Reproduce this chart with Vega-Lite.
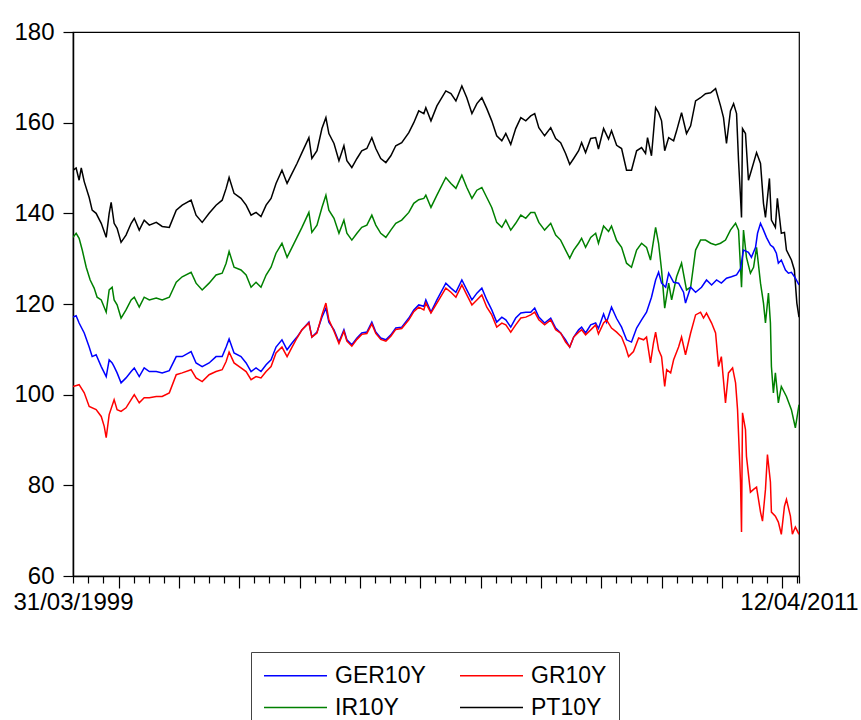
{
"$schema": "https://vega.github.io/schema/vega-lite/v6.json",
"autosize": {"type": "none"},
"padding": {"left": 73, "top": 32, "right": 62, "bottom": 144},
"width": 726,
"height": 544,
"background": "white",
"config": {"view": {"stroke": "black", "strokeWidth": 1.2}, "font": "Liberation Sans"},
"data": {"values": [
{"date":"1999-03-31","series":"PT10Y","value":149.5},
{"date":"1999-04-19","series":"PT10Y","value":150},
{"date":"1999-05-07","series":"PT10Y","value":147.3},
{"date":"1999-05-20","series":"PT10Y","value":150},
{"date":"1999-06-07","series":"PT10Y","value":147},
{"date":"1999-07-07","series":"PT10Y","value":143.5},
{"date":"1999-07-25","series":"PT10Y","value":140.7},
{"date":"1999-08-18","series":"PT10Y","value":140},
{"date":"1999-09-18","series":"PT10Y","value":137.8},
{"date":"1999-10-18","series":"PT10Y","value":134.7},
{"date":"1999-11-05","series":"PT10Y","value":140},
{"date":"1999-11-17","series":"PT10Y","value":142.4},
{"date":"1999-12-05","series":"PT10Y","value":137.8},
{"date":"1999-12-23","series":"PT10Y","value":136.7},
{"date":"2000-01-16","series":"PT10Y","value":133.6},
{"date":"2000-02-15","series":"PT10Y","value":135.2},
{"date":"2000-03-17","series":"PT10Y","value":137.8},
{"date":"2000-04-05","series":"PT10Y","value":138.9},
{"date":"2000-05-05","series":"PT10Y","value":136.3},
{"date":"2000-06-04","series":"PT10Y","value":138.5},
{"date":"2000-07-05","series":"PT10Y","value":137.4},
{"date":"2000-08-16","series":"PT10Y","value":138},
{"date":"2000-09-21","series":"PT10Y","value":137.1},
{"date":"2000-11-03","series":"PT10Y","value":136.9},
{"date":"2000-12-15","series":"PT10Y","value":140.7},
{"date":"2001-01-20","series":"PT10Y","value":141.8},
{"date":"2001-03-15","series":"PT10Y","value":142.9},
{"date":"2001-04-14","series":"PT10Y","value":139.6},
{"date":"2001-05-21","series":"PT10Y","value":138},
{"date":"2001-07-02","series":"PT10Y","value":140},
{"date":"2001-08-13","series":"PT10Y","value":141.8},
{"date":"2001-09-19","series":"PT10Y","value":142.9},
{"date":"2001-10-13","series":"PT10Y","value":145.5},
{"date":"2001-10-31","series":"PT10Y","value":147.9},
{"date":"2001-11-30","series":"PT10Y","value":144.4},
{"date":"2002-01-11","series":"PT10Y","value":143.3},
{"date":"2002-02-11","series":"PT10Y","value":141.8},
{"date":"2002-03-13","series":"PT10Y","value":139.6},
{"date":"2002-04-12","series":"PT10Y","value":140.2},
{"date":"2002-05-12","series":"PT10Y","value":139.3},
{"date":"2002-06-12","series":"PT10Y","value":141.8},
{"date":"2002-07-12","series":"PT10Y","value":143.3},
{"date":"2002-08-11","series":"PT10Y","value":146.6},
{"date":"2002-09-16","series":"PT10Y","value":149.5},
{"date":"2002-10-17","series":"PT10Y","value":146.6},
{"date":"2002-11-16","series":"PT10Y","value":148.8},
{"date":"2002-12-16","series":"PT10Y","value":151},
{"date":"2003-01-15","series":"PT10Y","value":153.4},
{"date":"2003-02-26","series":"PT10Y","value":156.7},
{"date":"2003-03-16","series":"PT10Y","value":152.1},
{"date":"2003-04-16","series":"PT10Y","value":153.8},
{"date":"2003-05-16","series":"PT10Y","value":158.7},
{"date":"2003-06-09","series":"PT10Y","value":161.1},
{"date":"2003-06-27","series":"PT10Y","value":157.6},
{"date":"2003-07-28","series":"PT10Y","value":155.4},
{"date":"2003-08-27","series":"PT10Y","value":151.6},
{"date":"2003-09-26","series":"PT10Y","value":154.9},
{"date":"2003-10-14","series":"PT10Y","value":151.6},
{"date":"2003-11-13","series":"PT10Y","value":150.1},
{"date":"2003-12-14","series":"PT10Y","value":152.1},
{"date":"2004-01-12","series":"PT10Y","value":153.8},
{"date":"2004-02-12","series":"PT10Y","value":154.3},
{"date":"2004-03-13","series":"PT10Y","value":156.7},
{"date":"2004-04-06","series":"PT10Y","value":154.3},
{"date":"2004-05-06","series":"PT10Y","value":152.1},
{"date":"2004-06-06","series":"PT10Y","value":151.2},
{"date":"2004-07-06","series":"PT10Y","value":152.7},
{"date":"2004-08-05","series":"PT10Y","value":154.9},
{"date":"2004-09-10","series":"PT10Y","value":155.6},
{"date":"2004-10-23","series":"PT10Y","value":157.8},
{"date":"2004-11-22","series":"PT10Y","value":160},
{"date":"2004-12-22","series":"PT10Y","value":162.6},
{"date":"2005-01-22","series":"PT10Y","value":162},
{"date":"2005-02-03","series":"PT10Y","value":163.3},
{"date":"2005-03-06","series":"PT10Y","value":160.4},
{"date":"2005-04-11","series":"PT10Y","value":163.7},
{"date":"2005-06-04","series":"PT10Y","value":167},
{"date":"2005-07-05","series":"PT10Y","value":166.4},
{"date":"2005-08-04","series":"PT10Y","value":164.8},
{"date":"2005-09-09","series":"PT10Y","value":168.1},
{"date":"2005-10-09","series":"PT10Y","value":165.5},
{"date":"2005-11-09","series":"PT10Y","value":162},
{"date":"2005-12-09","series":"PT10Y","value":164.2},
{"date":"2006-01-08","series":"PT10Y","value":165.5},
{"date":"2006-02-07","series":"PT10Y","value":163.1},
{"date":"2006-03-09","series":"PT10Y","value":160.4},
{"date":"2006-04-08","series":"PT10Y","value":157.1},
{"date":"2006-05-09","series":"PT10Y","value":156},
{"date":"2006-06-02","series":"PT10Y","value":157.6},
{"date":"2006-07-02","series":"PT10Y","value":155.2},
{"date":"2006-08-01","series":"PT10Y","value":158.7},
{"date":"2006-09-01","series":"PT10Y","value":161.1},
{"date":"2006-10-01","series":"PT10Y","value":160.4},
{"date":"2006-10-31","series":"PT10Y","value":161.5},
{"date":"2006-11-24","series":"PT10Y","value":162},
{"date":"2006-12-19","series":"PT10Y","value":158.9},
{"date":"2007-01-23","series":"PT10Y","value":157.1},
{"date":"2007-03-01","series":"PT10Y","value":158.9},
{"date":"2007-03-31","series":"PT10Y","value":156.5},
{"date":"2007-04-30","series":"PT10Y","value":155.6},
{"date":"2007-05-30","series":"PT10Y","value":153.2},
{"date":"2007-06-24","series":"PT10Y","value":150.8},
{"date":"2007-07-18","series":"PT10Y","value":152.1},
{"date":"2007-08-17","series":"PT10Y","value":153.8},
{"date":"2007-09-04","series":"PT10Y","value":155.6},
{"date":"2007-09-28","series":"PT10Y","value":153.4},
{"date":"2007-10-29","series":"PT10Y","value":156.5},
{"date":"2007-11-28","series":"PT10Y","value":156.7},
{"date":"2007-12-15","series":"PT10Y","value":154.2},
{"date":"2008-01-15","series":"PT10Y","value":158.7},
{"date":"2008-02-14","series":"PT10Y","value":156.4},
{"date":"2008-03-03","series":"PT10Y","value":158.2},
{"date":"2008-04-03","series":"PT10Y","value":155},
{"date":"2008-05-03","series":"PT10Y","value":154.3},
{"date":"2008-06-02","series":"PT10Y","value":149.5},
{"date":"2008-07-02","series":"PT10Y","value":149.5},
{"date":"2008-08-02","series":"PT10Y","value":153.8},
{"date":"2008-09-01","series":"PT10Y","value":154.5},
{"date":"2008-09-25","series":"PT10Y","value":153.2},
{"date":"2008-10-07","series":"PT10Y","value":156.7},
{"date":"2008-10-31","series":"PT10Y","value":152.7},
{"date":"2008-11-25","series":"PT10Y","value":163.3},
{"date":"2008-12-13","series":"PT10Y","value":162.2},
{"date":"2008-12-31","series":"PT10Y","value":160.4},
{"date":"2009-01-19","series":"PT10Y","value":153.8},
{"date":"2009-02-12","series":"PT10Y","value":156.7},
{"date":"2009-03-14","series":"PT10Y","value":156},
{"date":"2009-04-01","series":"PT10Y","value":158.2},
{"date":"2009-05-01","series":"PT10Y","value":162.2},
{"date":"2009-05-31","series":"PT10Y","value":157.6},
{"date":"2009-06-25","series":"PT10Y","value":159.3},
{"date":"2009-07-25","series":"PT10Y","value":164.8},
{"date":"2009-08-24","series":"PT10Y","value":165.5},
{"date":"2009-09-23","series":"PT10Y","value":166.4},
{"date":"2009-10-24","series":"PT10Y","value":166.6},
{"date":"2009-11-23","series":"PT10Y","value":167.5},
{"date":"2009-12-23","series":"PT10Y","value":163.7},
{"date":"2010-01-10","series":"PT10Y","value":161.1},
{"date":"2010-01-28","series":"PT10Y","value":155.4},
{"date":"2010-02-21","series":"PT10Y","value":162.6},
{"date":"2010-03-12","series":"PT10Y","value":164.2},
{"date":"2010-03-30","series":"PT10Y","value":162},
{"date":"2010-04-11","series":"PT10Y","value":151.6},
{"date":"2010-04-23","series":"PT10Y","value":143.5},
{"date":"2010-04-29","series":"PT10Y","value":139.1},
{"date":"2010-05-05","series":"PT10Y","value":158.7},
{"date":"2010-05-23","series":"PT10Y","value":157.6},
{"date":"2010-06-10","series":"PT10Y","value":147.3},
{"date":"2010-06-28","series":"PT10Y","value":149.5},
{"date":"2010-07-29","series":"PT10Y","value":153.4},
{"date":"2010-08-22","series":"PT10Y","value":151},
{"date":"2010-09-09","series":"PT10Y","value":142.2},
{"date":"2010-09-21","series":"PT10Y","value":139.1},
{"date":"2010-10-15","series":"PT10Y","value":147.7},
{"date":"2010-10-27","series":"PT10Y","value":138.5},
{"date":"2010-11-20","series":"PT10Y","value":136.9},
{"date":"2010-12-02","series":"PT10Y","value":143.3},
{"date":"2010-12-26","series":"PT10Y","value":135.6},
{"date":"2011-01-14","series":"PT10Y","value":135.8},
{"date":"2011-01-26","series":"PT10Y","value":131.9},
{"date":"2011-02-25","series":"PT10Y","value":129.7},
{"date":"2011-03-15","series":"PT10Y","value":127.5},
{"date":"2011-03-30","series":"PT10Y","value":120.2},
{"date":"2011-04-12","series":"PT10Y","value":117.1},
{"date":"1999-03-31","series":"IR10Y","value":134.7},
{"date":"1999-04-19","series":"IR10Y","value":135.6},
{"date":"1999-05-07","series":"IR10Y","value":134.5},
{"date":"1999-05-26","series":"IR10Y","value":131.9},
{"date":"1999-06-19","series":"IR10Y","value":128.1},
{"date":"1999-07-13","series":"IR10Y","value":125.3},
{"date":"1999-08-06","series":"IR10Y","value":123.5},
{"date":"1999-08-24","series":"IR10Y","value":121.5},
{"date":"1999-09-18","series":"IR10Y","value":120.9},
{"date":"1999-10-18","series":"IR10Y","value":118.2},
{"date":"1999-11-05","series":"IR10Y","value":123.1},
{"date":"1999-11-23","series":"IR10Y","value":123.7},
{"date":"1999-12-05","series":"IR10Y","value":120.9},
{"date":"1999-12-23","series":"IR10Y","value":119.8},
{"date":"2000-01-16","series":"IR10Y","value":116.9},
{"date":"2000-02-15","series":"IR10Y","value":118.7},
{"date":"2000-03-17","series":"IR10Y","value":120.9},
{"date":"2000-04-05","series":"IR10Y","value":121.5},
{"date":"2000-05-05","series":"IR10Y","value":119.3},
{"date":"2000-06-04","series":"IR10Y","value":121.5},
{"date":"2000-07-05","series":"IR10Y","value":120.9},
{"date":"2000-08-16","series":"IR10Y","value":121.3},
{"date":"2000-09-21","series":"IR10Y","value":120.9},
{"date":"2000-11-03","series":"IR10Y","value":121.5},
{"date":"2000-12-15","series":"IR10Y","value":124.8},
{"date":"2001-01-20","series":"IR10Y","value":126},
{"date":"2001-03-15","series":"IR10Y","value":127},
{"date":"2001-04-14","series":"IR10Y","value":124.6},
{"date":"2001-05-21","series":"IR10Y","value":123.1},
{"date":"2001-07-02","series":"IR10Y","value":124.6},
{"date":"2001-08-13","series":"IR10Y","value":126.4},
{"date":"2001-09-19","series":"IR10Y","value":126.8},
{"date":"2001-10-13","series":"IR10Y","value":129},
{"date":"2001-10-31","series":"IR10Y","value":131.6},
{"date":"2001-11-30","series":"IR10Y","value":128.1},
{"date":"2002-01-11","series":"IR10Y","value":127.5},
{"date":"2002-02-11","series":"IR10Y","value":126.4},
{"date":"2002-03-13","series":"IR10Y","value":123.7},
{"date":"2002-04-12","series":"IR10Y","value":124.8},
{"date":"2002-05-12","series":"IR10Y","value":123.7},
{"date":"2002-06-12","series":"IR10Y","value":126.4},
{"date":"2002-07-12","series":"IR10Y","value":128.1},
{"date":"2002-08-11","series":"IR10Y","value":131.2},
{"date":"2002-09-16","series":"IR10Y","value":133.4},
{"date":"2002-10-17","series":"IR10Y","value":130.3},
{"date":"2002-11-16","series":"IR10Y","value":132.5},
{"date":"2002-12-16","series":"IR10Y","value":134.7},
{"date":"2003-01-15","series":"IR10Y","value":136.9},
{"date":"2003-02-26","series":"IR10Y","value":140.2},
{"date":"2003-03-16","series":"IR10Y","value":135.8},
{"date":"2003-04-16","series":"IR10Y","value":137.4},
{"date":"2003-05-16","series":"IR10Y","value":141.3},
{"date":"2003-06-09","series":"IR10Y","value":144},
{"date":"2003-06-27","series":"IR10Y","value":140.7},
{"date":"2003-07-28","series":"IR10Y","value":138.9},
{"date":"2003-08-27","series":"IR10Y","value":135.6},
{"date":"2003-09-26","series":"IR10Y","value":138.5},
{"date":"2003-10-14","series":"IR10Y","value":135.6},
{"date":"2003-11-13","series":"IR10Y","value":134.1},
{"date":"2003-12-14","series":"IR10Y","value":135.6},
{"date":"2004-01-12","series":"IR10Y","value":136.9},
{"date":"2004-02-12","series":"IR10Y","value":137.4},
{"date":"2004-03-13","series":"IR10Y","value":139.6},
{"date":"2004-04-06","series":"IR10Y","value":137.4},
{"date":"2004-05-06","series":"IR10Y","value":135.6},
{"date":"2004-06-06","series":"IR10Y","value":134.7},
{"date":"2004-07-06","series":"IR10Y","value":136.3},
{"date":"2004-08-05","series":"IR10Y","value":137.8},
{"date":"2004-09-10","series":"IR10Y","value":138.5},
{"date":"2004-10-23","series":"IR10Y","value":140.2},
{"date":"2004-11-22","series":"IR10Y","value":142.2},
{"date":"2004-12-22","series":"IR10Y","value":143},
{"date":"2005-01-22","series":"IR10Y","value":143.3},
{"date":"2005-02-03","series":"IR10Y","value":144},
{"date":"2005-03-06","series":"IR10Y","value":141.3},
{"date":"2005-04-11","series":"IR10Y","value":144},
{"date":"2005-06-04","series":"IR10Y","value":147.9},
{"date":"2005-07-05","series":"IR10Y","value":146.6},
{"date":"2005-08-04","series":"IR10Y","value":145.5},
{"date":"2005-09-09","series":"IR10Y","value":148.4},
{"date":"2005-10-09","series":"IR10Y","value":145.7},
{"date":"2005-11-09","series":"IR10Y","value":143.3},
{"date":"2005-12-09","series":"IR10Y","value":145.1},
{"date":"2006-01-08","series":"IR10Y","value":145.7},
{"date":"2006-02-07","series":"IR10Y","value":143.5},
{"date":"2006-03-09","series":"IR10Y","value":141.3},
{"date":"2006-04-08","series":"IR10Y","value":138},
{"date":"2006-05-09","series":"IR10Y","value":136.9},
{"date":"2006-06-02","series":"IR10Y","value":138.5},
{"date":"2006-07-02","series":"IR10Y","value":136.3},
{"date":"2006-08-01","series":"IR10Y","value":137.8},
{"date":"2006-09-01","series":"IR10Y","value":139.6},
{"date":"2006-10-01","series":"IR10Y","value":138.9},
{"date":"2006-10-31","series":"IR10Y","value":140.2},
{"date":"2006-11-24","series":"IR10Y","value":140.2},
{"date":"2006-12-19","series":"IR10Y","value":138},
{"date":"2007-01-23","series":"IR10Y","value":136.3},
{"date":"2007-03-01","series":"IR10Y","value":137.8},
{"date":"2007-03-31","series":"IR10Y","value":135.2},
{"date":"2007-04-30","series":"IR10Y","value":134.1},
{"date":"2007-05-30","series":"IR10Y","value":131.9},
{"date":"2007-06-24","series":"IR10Y","value":130.1},
{"date":"2007-07-18","series":"IR10Y","value":131.9},
{"date":"2007-08-17","series":"IR10Y","value":133.4},
{"date":"2007-09-04","series":"IR10Y","value":134.5},
{"date":"2007-09-28","series":"IR10Y","value":132.5},
{"date":"2007-10-29","series":"IR10Y","value":134.7},
{"date":"2007-11-28","series":"IR10Y","value":135.6},
{"date":"2007-12-15","series":"IR10Y","value":133.4},
{"date":"2008-01-15","series":"IR10Y","value":137.2},
{"date":"2008-02-14","series":"IR10Y","value":136},
{"date":"2008-03-03","series":"IR10Y","value":137.2},
{"date":"2008-04-03","series":"IR10Y","value":134},
{"date":"2008-05-03","series":"IR10Y","value":132.5},
{"date":"2008-06-02","series":"IR10Y","value":129},
{"date":"2008-07-02","series":"IR10Y","value":128.1},
{"date":"2008-08-02","series":"IR10Y","value":131.9},
{"date":"2008-09-01","series":"IR10Y","value":133.4},
{"date":"2008-10-01","series":"IR10Y","value":132.5},
{"date":"2008-10-25","series":"IR10Y","value":129.7},
{"date":"2008-11-25","series":"IR10Y","value":136.9},
{"date":"2008-12-13","series":"IR10Y","value":133.4},
{"date":"2008-12-31","series":"IR10Y","value":127.5},
{"date":"2009-01-19","series":"IR10Y","value":119.1},
{"date":"2009-02-12","series":"IR10Y","value":124.6},
{"date":"2009-03-02","series":"IR10Y","value":120.9},
{"date":"2009-04-01","series":"IR10Y","value":126},
{"date":"2009-05-01","series":"IR10Y","value":129},
{"date":"2009-05-31","series":"IR10Y","value":123.1},
{"date":"2009-06-25","series":"IR10Y","value":123.7},
{"date":"2009-07-25","series":"IR10Y","value":131.9},
{"date":"2009-08-24","series":"IR10Y","value":134.1},
{"date":"2009-09-23","series":"IR10Y","value":134.1},
{"date":"2009-10-24","series":"IR10Y","value":133.4},
{"date":"2009-11-23","series":"IR10Y","value":133},
{"date":"2009-12-23","series":"IR10Y","value":133.4},
{"date":"2010-01-22","series":"IR10Y","value":134.1},
{"date":"2010-02-21","series":"IR10Y","value":136.3},
{"date":"2010-03-24","series":"IR10Y","value":137.8},
{"date":"2010-04-11","series":"IR10Y","value":136.3},
{"date":"2010-04-29","series":"IR10Y","value":123.7},
{"date":"2010-05-11","series":"IR10Y","value":136.3},
{"date":"2010-05-29","series":"IR10Y","value":130.3},
{"date":"2010-06-22","series":"IR10Y","value":126.8},
{"date":"2010-07-11","series":"IR10Y","value":128.1},
{"date":"2010-07-29","series":"IR10Y","value":132.5},
{"date":"2010-08-22","series":"IR10Y","value":124.6},
{"date":"2010-09-09","series":"IR10Y","value":120.2},
{"date":"2010-09-21","series":"IR10Y","value":115.8},
{"date":"2010-10-09","series":"IR10Y","value":122.4},
{"date":"2010-10-21","series":"IR10Y","value":115.8},
{"date":"2010-10-27","series":"IR10Y","value":106.2},
{"date":"2010-11-08","series":"IR10Y","value":100.4},
{"date":"2010-11-20","series":"IR10Y","value":104.8},
{"date":"2010-12-08","series":"IR10Y","value":98.2},
{"date":"2010-12-26","series":"IR10Y","value":101.8},
{"date":"2011-01-26","series":"IR10Y","value":99.6},
{"date":"2011-02-25","series":"IR10Y","value":96.7},
{"date":"2011-03-21","series":"IR10Y","value":92.7},
{"date":"2011-04-12","series":"IR10Y","value":97.8},
{"date":"1999-03-31","series":"GER10Y","value":117.1},
{"date":"1999-04-19","series":"GER10Y","value":117.4},
{"date":"1999-05-07","series":"GER10Y","value":115.8},
{"date":"1999-06-07","series":"GER10Y","value":113.6},
{"date":"1999-07-07","series":"GER10Y","value":110.5},
{"date":"1999-07-25","series":"GER10Y","value":108.4},
{"date":"1999-08-18","series":"GER10Y","value":108.8},
{"date":"1999-09-18","series":"GER10Y","value":106.2},
{"date":"1999-10-18","series":"GER10Y","value":104},
{"date":"1999-11-05","series":"GER10Y","value":107.7},
{"date":"1999-11-23","series":"GER10Y","value":107},
{"date":"1999-12-05","series":"GER10Y","value":106.2},
{"date":"1999-12-23","series":"GER10Y","value":104.8},
{"date":"2000-01-16","series":"GER10Y","value":102.6},
{"date":"2000-02-15","series":"GER10Y","value":103.7},
{"date":"2000-03-17","series":"GER10Y","value":105.1},
{"date":"2000-04-05","series":"GER10Y","value":105.9},
{"date":"2000-05-05","series":"GER10Y","value":104},
{"date":"2000-06-04","series":"GER10Y","value":105.9},
{"date":"2000-07-05","series":"GER10Y","value":105.1},
{"date":"2000-08-16","series":"GER10Y","value":105.1},
{"date":"2000-09-21","series":"GER10Y","value":104.8},
{"date":"2000-11-03","series":"GER10Y","value":105.3},
{"date":"2000-12-15","series":"GER10Y","value":108.4},
{"date":"2001-01-20","series":"GER10Y","value":108.4},
{"date":"2001-03-15","series":"GER10Y","value":109.5},
{"date":"2001-04-14","series":"GER10Y","value":107},
{"date":"2001-05-21","series":"GER10Y","value":106.2},
{"date":"2001-07-02","series":"GER10Y","value":107},
{"date":"2001-08-13","series":"GER10Y","value":108.4},
{"date":"2001-09-19","series":"GER10Y","value":108.4},
{"date":"2001-10-13","series":"GER10Y","value":110.5},
{"date":"2001-10-31","series":"GER10Y","value":112.3},
{"date":"2001-11-30","series":"GER10Y","value":109.2},
{"date":"2002-01-11","series":"GER10Y","value":108.4},
{"date":"2002-02-11","series":"GER10Y","value":107},
{"date":"2002-03-13","series":"GER10Y","value":105.1},
{"date":"2002-04-12","series":"GER10Y","value":105.9},
{"date":"2002-05-12","series":"GER10Y","value":105.1},
{"date":"2002-06-12","series":"GER10Y","value":106.6},
{"date":"2002-07-12","series":"GER10Y","value":107.7},
{"date":"2002-08-11","series":"GER10Y","value":110.5},
{"date":"2002-09-16","series":"GER10Y","value":112.1},
{"date":"2002-10-17","series":"GER10Y","value":109.9},
{"date":"2002-11-16","series":"GER10Y","value":111.4},
{"date":"2002-12-16","series":"GER10Y","value":112.7},
{"date":"2003-01-15","series":"GER10Y","value":114.3},
{"date":"2003-02-26","series":"GER10Y","value":116},
{"date":"2003-03-16","series":"GER10Y","value":112.7},
{"date":"2003-04-16","series":"GER10Y","value":113.8},
{"date":"2003-05-16","series":"GER10Y","value":117.1},
{"date":"2003-06-09","series":"GER10Y","value":119.1},
{"date":"2003-06-27","series":"GER10Y","value":116},
{"date":"2003-07-28","series":"GER10Y","value":114.3},
{"date":"2003-08-27","series":"GER10Y","value":111.6},
{"date":"2003-09-26","series":"GER10Y","value":114.3},
{"date":"2003-10-14","series":"GER10Y","value":112.1},
{"date":"2003-11-13","series":"GER10Y","value":111},
{"date":"2003-12-14","series":"GER10Y","value":112.5},
{"date":"2004-01-12","series":"GER10Y","value":113.6},
{"date":"2004-02-12","series":"GER10Y","value":113.8},
{"date":"2004-03-13","series":"GER10Y","value":116},
{"date":"2004-04-06","series":"GER10Y","value":113.8},
{"date":"2004-05-06","series":"GER10Y","value":112.5},
{"date":"2004-06-06","series":"GER10Y","value":112.1},
{"date":"2004-07-06","series":"GER10Y","value":113.2},
{"date":"2004-08-05","series":"GER10Y","value":114.7},
{"date":"2004-09-10","series":"GER10Y","value":114.9},
{"date":"2004-10-23","series":"GER10Y","value":116.9},
{"date":"2004-11-22","series":"GER10Y","value":118.7},
{"date":"2004-12-22","series":"GER10Y","value":119.8},
{"date":"2005-01-22","series":"GER10Y","value":119.5},
{"date":"2005-02-03","series":"GER10Y","value":120.9},
{"date":"2005-03-06","series":"GER10Y","value":118.2},
{"date":"2005-04-11","series":"GER10Y","value":120.9},
{"date":"2005-06-04","series":"GER10Y","value":124.6},
{"date":"2005-07-05","series":"GER10Y","value":123.5},
{"date":"2005-08-04","series":"GER10Y","value":122.6},
{"date":"2005-09-09","series":"GER10Y","value":125.3},
{"date":"2005-10-09","series":"GER10Y","value":123.1},
{"date":"2005-11-09","series":"GER10Y","value":120.9},
{"date":"2005-12-09","series":"GER10Y","value":122.4},
{"date":"2006-01-08","series":"GER10Y","value":123.5},
{"date":"2006-02-07","series":"GER10Y","value":120.9},
{"date":"2006-03-09","series":"GER10Y","value":118.7},
{"date":"2006-04-08","series":"GER10Y","value":116},
{"date":"2006-05-09","series":"GER10Y","value":117.1},
{"date":"2006-06-02","series":"GER10Y","value":116.5},
{"date":"2006-07-02","series":"GER10Y","value":114.9},
{"date":"2006-08-01","series":"GER10Y","value":116.9},
{"date":"2006-09-01","series":"GER10Y","value":118},
{"date":"2006-10-01","series":"GER10Y","value":118.2},
{"date":"2006-10-31","series":"GER10Y","value":118.2},
{"date":"2006-11-24","series":"GER10Y","value":119.1},
{"date":"2006-12-19","series":"GER10Y","value":117.1},
{"date":"2007-01-23","series":"GER10Y","value":115.8},
{"date":"2007-03-01","series":"GER10Y","value":116.9},
{"date":"2007-03-31","series":"GER10Y","value":114.7},
{"date":"2007-04-30","series":"GER10Y","value":113.6},
{"date":"2007-05-30","series":"GER10Y","value":112.1},
{"date":"2007-06-24","series":"GER10Y","value":110.5},
{"date":"2007-07-18","series":"GER10Y","value":112.7},
{"date":"2007-08-17","series":"GER10Y","value":114.3},
{"date":"2007-09-04","series":"GER10Y","value":114.9},
{"date":"2007-09-28","series":"GER10Y","value":113.6},
{"date":"2007-10-29","series":"GER10Y","value":115.4},
{"date":"2007-11-28","series":"GER10Y","value":115.8},
{"date":"2007-12-15","series":"GER10Y","value":114.6},
{"date":"2008-01-15","series":"GER10Y","value":117.8},
{"date":"2008-02-02","series":"GER10Y","value":116},
{"date":"2008-03-03","series":"GER10Y","value":119.3},
{"date":"2008-04-03","series":"GER10Y","value":116.8},
{"date":"2008-05-03","series":"GER10Y","value":114.9},
{"date":"2008-06-02","series":"GER10Y","value":112.1},
{"date":"2008-07-02","series":"GER10Y","value":111.6},
{"date":"2008-08-02","series":"GER10Y","value":114.7},
{"date":"2008-09-01","series":"GER10Y","value":116.5},
{"date":"2008-10-01","series":"GER10Y","value":118.2},
{"date":"2008-10-31","series":"GER10Y","value":121.5},
{"date":"2008-11-25","series":"GER10Y","value":125.3},
{"date":"2008-12-13","series":"GER10Y","value":127},
{"date":"2008-12-31","series":"GER10Y","value":124.6},
{"date":"2009-01-25","series":"GER10Y","value":123.7},
{"date":"2009-02-12","series":"GER10Y","value":126.8},
{"date":"2009-03-14","series":"GER10Y","value":124.8},
{"date":"2009-04-13","series":"GER10Y","value":124.6},
{"date":"2009-05-13","series":"GER10Y","value":122.6},
{"date":"2009-05-25","series":"GER10Y","value":120.2},
{"date":"2009-06-25","series":"GER10Y","value":123.7},
{"date":"2009-07-25","series":"GER10Y","value":122.6},
{"date":"2009-08-30","series":"GER10Y","value":123.7},
{"date":"2009-09-29","series":"GER10Y","value":125.3},
{"date":"2009-10-30","series":"GER10Y","value":124.2},
{"date":"2009-11-29","series":"GER10Y","value":125.3},
{"date":"2009-12-28","series":"GER10Y","value":124.6},
{"date":"2010-01-28","series":"GER10Y","value":125.7},
{"date":"2010-02-27","series":"GER10Y","value":126},
{"date":"2010-03-30","series":"GER10Y","value":126.4},
{"date":"2010-04-23","series":"GER10Y","value":127.8},
{"date":"2010-05-11","series":"GER10Y","value":131.9},
{"date":"2010-06-10","series":"GER10Y","value":131.4},
{"date":"2010-06-28","series":"GER10Y","value":130.3},
{"date":"2010-07-23","series":"GER10Y","value":132.5},
{"date":"2010-08-04","series":"GER10Y","value":135.6},
{"date":"2010-08-22","series":"GER10Y","value":137.8},
{"date":"2010-09-09","series":"GER10Y","value":136.3},
{"date":"2010-09-27","series":"GER10Y","value":134.7},
{"date":"2010-10-21","series":"GER10Y","value":133},
{"date":"2010-11-08","series":"GER10Y","value":132.5},
{"date":"2010-11-26","series":"GER10Y","value":131.2},
{"date":"2010-12-08","series":"GER10Y","value":129},
{"date":"2010-12-26","series":"GER10Y","value":129.7},
{"date":"2011-01-20","series":"GER10Y","value":127.5},
{"date":"2011-02-07","series":"GER10Y","value":126.8},
{"date":"2011-02-25","series":"GER10Y","value":127},
{"date":"2011-03-21","series":"GER10Y","value":125.7},
{"date":"2011-04-12","series":"GER10Y","value":124.2},
{"date":"1999-03-31","series":"GR10Y","value":101.8},
{"date":"1999-05-07","series":"GR10Y","value":102.2},
{"date":"1999-06-07","series":"GR10Y","value":100.4},
{"date":"1999-07-07","series":"GR10Y","value":97.4},
{"date":"1999-08-18","series":"GR10Y","value":96.7},
{"date":"1999-09-18","series":"GR10Y","value":95.2},
{"date":"1999-10-06","series":"GR10Y","value":93},
{"date":"1999-10-18","series":"GR10Y","value":90.5},
{"date":"1999-11-05","series":"GR10Y","value":95.6},
{"date":"1999-12-05","series":"GR10Y","value":98.9},
{"date":"1999-12-23","series":"GR10Y","value":96.7},
{"date":"2000-01-16","series":"GR10Y","value":96.3},
{"date":"2000-02-15","series":"GR10Y","value":97.1},
{"date":"2000-03-17","series":"GR10Y","value":98.9},
{"date":"2000-04-05","series":"GR10Y","value":100},
{"date":"2000-05-05","series":"GR10Y","value":98.2},
{"date":"2000-06-04","series":"GR10Y","value":99.3},
{"date":"2000-07-05","series":"GR10Y","value":99.3},
{"date":"2000-08-16","series":"GR10Y","value":99.6},
{"date":"2000-09-21","series":"GR10Y","value":99.6},
{"date":"2000-11-03","series":"GR10Y","value":100.4},
{"date":"2000-12-15","series":"GR10Y","value":104.4},
{"date":"2001-01-20","series":"GR10Y","value":104.8},
{"date":"2001-03-15","series":"GR10Y","value":105.5},
{"date":"2001-04-14","series":"GR10Y","value":103.7},
{"date":"2001-05-21","series":"GR10Y","value":102.9},
{"date":"2001-07-02","series":"GR10Y","value":104.4},
{"date":"2001-08-13","series":"GR10Y","value":105.1},
{"date":"2001-09-19","series":"GR10Y","value":105.5},
{"date":"2001-10-13","series":"GR10Y","value":107.3},
{"date":"2001-10-31","series":"GR10Y","value":109.4},
{"date":"2001-11-30","series":"GR10Y","value":107},
{"date":"2002-01-11","series":"GR10Y","value":105.9},
{"date":"2002-02-11","series":"GR10Y","value":105.1},
{"date":"2002-03-13","series":"GR10Y","value":103.3},
{"date":"2002-04-12","series":"GR10Y","value":104},
{"date":"2002-05-12","series":"GR10Y","value":103.7},
{"date":"2002-06-12","series":"GR10Y","value":105.1},
{"date":"2002-07-12","series":"GR10Y","value":106.2},
{"date":"2002-08-11","series":"GR10Y","value":109.2},
{"date":"2002-09-16","series":"GR10Y","value":110.5},
{"date":"2002-10-17","series":"GR10Y","value":108.4},
{"date":"2002-11-16","series":"GR10Y","value":110.5},
{"date":"2002-12-16","series":"GR10Y","value":112.5},
{"date":"2003-01-15","series":"GR10Y","value":114.3},
{"date":"2003-02-26","series":"GR10Y","value":115.8},
{"date":"2003-03-16","series":"GR10Y","value":112.7},
{"date":"2003-04-16","series":"GR10Y","value":113.6},
{"date":"2003-05-16","series":"GR10Y","value":117.6},
{"date":"2003-06-09","series":"GR10Y","value":120.2},
{"date":"2003-06-27","series":"GR10Y","value":116.5},
{"date":"2003-07-28","series":"GR10Y","value":114},
{"date":"2003-08-27","series":"GR10Y","value":111.3},
{"date":"2003-09-26","series":"GR10Y","value":114},
{"date":"2003-10-14","series":"GR10Y","value":111.8},
{"date":"2003-11-13","series":"GR10Y","value":110.7},
{"date":"2003-12-14","series":"GR10Y","value":112.2},
{"date":"2004-01-12","series":"GR10Y","value":113.3},
{"date":"2004-02-12","series":"GR10Y","value":113.5},
{"date":"2004-03-13","series":"GR10Y","value":115.6},
{"date":"2004-04-06","series":"GR10Y","value":113.5},
{"date":"2004-05-06","series":"GR10Y","value":112.2},
{"date":"2004-06-06","series":"GR10Y","value":111.8},
{"date":"2004-07-06","series":"GR10Y","value":112.9},
{"date":"2004-08-05","series":"GR10Y","value":114.4},
{"date":"2004-09-10","series":"GR10Y","value":114.6},
{"date":"2004-10-23","series":"GR10Y","value":116.5},
{"date":"2004-11-22","series":"GR10Y","value":118.3},
{"date":"2004-12-22","series":"GR10Y","value":119.3},
{"date":"2005-01-22","series":"GR10Y","value":118.7},
{"date":"2005-02-03","series":"GR10Y","value":120.2},
{"date":"2005-03-06","series":"GR10Y","value":118},
{"date":"2005-04-11","series":"GR10Y","value":120.2},
{"date":"2005-06-04","series":"GR10Y","value":123.5},
{"date":"2005-07-05","series":"GR10Y","value":122.6},
{"date":"2005-08-04","series":"GR10Y","value":121.5},
{"date":"2005-09-09","series":"GR10Y","value":124.2},
{"date":"2005-10-09","series":"GR10Y","value":122},
{"date":"2005-11-09","series":"GR10Y","value":119.8},
{"date":"2005-12-09","series":"GR10Y","value":120.9},
{"date":"2006-01-08","series":"GR10Y","value":122},
{"date":"2006-02-07","series":"GR10Y","value":119.3},
{"date":"2006-03-09","series":"GR10Y","value":117.6},
{"date":"2006-04-08","series":"GR10Y","value":114.9},
{"date":"2006-05-09","series":"GR10Y","value":115.8},
{"date":"2006-06-02","series":"GR10Y","value":115.4},
{"date":"2006-07-02","series":"GR10Y","value":113.8},
{"date":"2006-08-01","series":"GR10Y","value":115.4},
{"date":"2006-09-01","series":"GR10Y","value":116.9},
{"date":"2006-10-01","series":"GR10Y","value":117.1},
{"date":"2006-10-31","series":"GR10Y","value":117.6},
{"date":"2006-11-24","series":"GR10Y","value":118.2},
{"date":"2006-12-19","series":"GR10Y","value":116.5},
{"date":"2007-01-23","series":"GR10Y","value":115.4},
{"date":"2007-03-01","series":"GR10Y","value":116.5},
{"date":"2007-03-31","series":"GR10Y","value":114.3},
{"date":"2007-04-30","series":"GR10Y","value":113.6},
{"date":"2007-05-30","series":"GR10Y","value":111.6},
{"date":"2007-06-24","series":"GR10Y","value":110.5},
{"date":"2007-07-18","series":"GR10Y","value":112.7},
{"date":"2007-08-17","series":"GR10Y","value":113.8},
{"date":"2007-09-04","series":"GR10Y","value":114.3},
{"date":"2007-09-28","series":"GR10Y","value":113.2},
{"date":"2007-10-29","series":"GR10Y","value":114.3},
{"date":"2007-11-28","series":"GR10Y","value":115.4},
{"date":"2007-12-15","series":"GR10Y","value":113.4},
{"date":"2008-01-15","series":"GR10Y","value":115.8},
{"date":"2008-02-02","series":"GR10Y","value":116.5},
{"date":"2008-03-03","series":"GR10Y","value":114.7},
{"date":"2008-04-03","series":"GR10Y","value":113.8},
{"date":"2008-05-03","series":"GR10Y","value":112.7},
{"date":"2008-05-27","series":"GR10Y","value":110.5},
{"date":"2008-06-14","series":"GR10Y","value":108.4},
{"date":"2008-07-14","series":"GR10Y","value":109.5},
{"date":"2008-08-14","series":"GR10Y","value":112.5},
{"date":"2008-09-13","series":"GR10Y","value":112.1},
{"date":"2008-10-01","series":"GR10Y","value":112.7},
{"date":"2008-10-25","series":"GR10Y","value":107},
{"date":"2008-11-12","series":"GR10Y","value":111.4},
{"date":"2008-11-25","series":"GR10Y","value":113.8},
{"date":"2008-12-13","series":"GR10Y","value":109.9},
{"date":"2008-12-31","series":"GR10Y","value":108.4},
{"date":"2009-01-19","series":"GR10Y","value":101.8},
{"date":"2009-01-31","series":"GR10Y","value":105.5},
{"date":"2009-02-24","series":"GR10Y","value":104.8},
{"date":"2009-03-14","series":"GR10Y","value":107.7},
{"date":"2009-04-13","series":"GR10Y","value":110.5},
{"date":"2009-05-01","series":"GR10Y","value":112.7},
{"date":"2009-05-25","series":"GR10Y","value":108.8},
{"date":"2009-06-25","series":"GR10Y","value":113.6},
{"date":"2009-07-25","series":"GR10Y","value":117.6},
{"date":"2009-08-24","series":"GR10Y","value":118.2},
{"date":"2009-09-11","series":"GR10Y","value":116.9},
{"date":"2009-09-29","series":"GR10Y","value":118},
{"date":"2009-10-30","series":"GR10Y","value":115.8},
{"date":"2009-11-23","series":"GR10Y","value":113.6},
{"date":"2009-12-11","series":"GR10Y","value":106.2},
{"date":"2009-12-28","series":"GR10Y","value":108.4},
{"date":"2010-01-22","series":"GR10Y","value":98.2},
{"date":"2010-02-09","series":"GR10Y","value":104.8},
{"date":"2010-03-06","series":"GR10Y","value":105.9},
{"date":"2010-03-24","series":"GR10Y","value":102.6},
{"date":"2010-04-05","series":"GR10Y","value":96.7},
{"date":"2010-04-23","series":"GR10Y","value":80.7},
{"date":"2010-04-29","series":"GR10Y","value":69.7},
{"date":"2010-05-05","series":"GR10Y","value":96},
{"date":"2010-05-23","series":"GR10Y","value":92.3},
{"date":"2010-05-29","series":"GR10Y","value":86.4},
{"date":"2010-06-22","series":"GR10Y","value":78.5},
{"date":"2010-07-11","series":"GR10Y","value":79.1},
{"date":"2010-07-29","series":"GR10Y","value":79.6},
{"date":"2010-08-22","series":"GR10Y","value":74.1},
{"date":"2010-09-03","series":"GR10Y","value":72.1},
{"date":"2010-09-21","series":"GR10Y","value":79.1},
{"date":"2010-10-03","series":"GR10Y","value":86.8},
{"date":"2010-10-21","series":"GR10Y","value":80.7},
{"date":"2010-10-27","series":"GR10Y","value":74.1},
{"date":"2010-11-20","series":"GR10Y","value":73.2},
{"date":"2010-12-08","series":"GR10Y","value":71.9},
{"date":"2010-12-26","series":"GR10Y","value":69.2},
{"date":"2011-01-14","series":"GR10Y","value":75.4},
{"date":"2011-01-26","series":"GR10Y","value":76.9},
{"date":"2011-02-19","series":"GR10Y","value":73.2},
{"date":"2011-03-03","series":"GR10Y","value":69.2},
{"date":"2011-03-21","series":"GR10Y","value":70.8},
{"date":"2011-04-12","series":"GR10Y","value":69.2}
]},
"mark": {"type": "line", "strokeWidth": 1.5, "clip": true},
"encoding": {
  "x": {
    "field": "date", "type": "temporal",
    "scale": {"type": "utc", "domain": [{"year": 1999, "month": 3, "date": 31, "utc": true}, {"year": 2011, "month": 4, "date": 12, "utc": true}]},
    "axis": {
      "title": null, "grid": false,
      "values": [
        {"year":1999,"month":3,"date":31,"utc":true},
        {"year":1999,"month":7,"date":1,"utc":true},{"year":1999,"month":10,"date":1,"utc":true},
        {"year":2000,"month":1,"date":1,"utc":true},{"year":2000,"month":4,"date":1,"utc":true},{"year":2000,"month":7,"date":1,"utc":true},{"year":2000,"month":10,"date":1,"utc":true},
        {"year":2001,"month":1,"date":1,"utc":true},{"year":2001,"month":4,"date":1,"utc":true},{"year":2001,"month":7,"date":1,"utc":true},{"year":2001,"month":10,"date":1,"utc":true},
        {"year":2002,"month":1,"date":1,"utc":true},{"year":2002,"month":4,"date":1,"utc":true},{"year":2002,"month":7,"date":1,"utc":true},{"year":2002,"month":10,"date":1,"utc":true},
        {"year":2003,"month":1,"date":1,"utc":true},{"year":2003,"month":4,"date":1,"utc":true},{"year":2003,"month":7,"date":1,"utc":true},{"year":2003,"month":10,"date":1,"utc":true},
        {"year":2004,"month":1,"date":1,"utc":true},{"year":2004,"month":4,"date":1,"utc":true},{"year":2004,"month":7,"date":1,"utc":true},{"year":2004,"month":10,"date":1,"utc":true},
        {"year":2005,"month":1,"date":1,"utc":true},{"year":2005,"month":4,"date":1,"utc":true},{"year":2005,"month":7,"date":1,"utc":true},{"year":2005,"month":10,"date":1,"utc":true},
        {"year":2006,"month":1,"date":1,"utc":true},{"year":2006,"month":4,"date":1,"utc":true},{"year":2006,"month":7,"date":1,"utc":true},{"year":2006,"month":10,"date":1,"utc":true},
        {"year":2007,"month":1,"date":1,"utc":true},{"year":2007,"month":4,"date":1,"utc":true},{"year":2007,"month":7,"date":1,"utc":true},{"year":2007,"month":10,"date":1,"utc":true},
        {"year":2008,"month":1,"date":1,"utc":true},{"year":2008,"month":4,"date":1,"utc":true},{"year":2008,"month":7,"date":1,"utc":true},{"year":2008,"month":10,"date":1,"utc":true},
        {"year":2009,"month":1,"date":1,"utc":true},{"year":2009,"month":4,"date":1,"utc":true},{"year":2009,"month":7,"date":1,"utc":true},{"year":2009,"month":10,"date":1,"utc":true},
        {"year":2010,"month":1,"date":1,"utc":true},{"year":2010,"month":4,"date":1,"utc":true},{"year":2010,"month":7,"date":1,"utc":true},{"year":2010,"month":10,"date":1,"utc":true},
        {"year":2011,"month":1,"date":1,"utc":true},{"year":2011,"month":4,"date":1,"utc":true},
        {"year":2011,"month":4,"date":12,"utc":true}
      ],
      "labelExpr": "(utcyear(datum.value) == 1999 && utcmonth(datum.value) == 2) || (utcyear(datum.value) == 2011 && utcdate(datum.value) == 12) ? utcFormat(datum.value, '%d/%m/%Y') : ''",
      "labelFlush": false, "labelOverlap": false, "labelBound": false,
      "labelFontSize": 24, "labelColor": "black", "labelFont": "Liberation Sans", "labelPadding": 7,
      "tickSize": {"condition": {"test": "utcmonth(datum.value) == 0 && utcdate(datum.value) == 1", "value": 12}, "value": 7},
      "tickColor": "black", "tickWidth": 1.2, "domainColor": "black", "domainWidth": 1.5
    }
  },
  "y": {
    "field": "value", "type": "quantitative",
    "scale": {"domain": [60, 180], "nice": false, "zero": false},
    "axis": {
      "title": null, "grid": false, "values": [60, 80, 100, 120, 140, 160, 180],
      "labelFontSize": 24, "labelColor": "black", "labelFont": "Liberation Sans", "labelPadding": 9,
      "tickSize": 10, "tickColor": "black", "tickWidth": 1.2, "domainColor": "black", "domainWidth": 1.5
    }
  },
  "color": {
    "field": "series", "type": "nominal",
    "scale": {"domain": ["GER10Y", "GR10Y", "IR10Y", "PT10Y"], "range": ["#0000FF", "#FF0000", "#008000", "#000000"]},
    "legend": {
      "title": null, "orient": "none", "direction": "horizontal", "legendX": 178, "legendY": 620, "columns": 2,
      "symbolType": "M-1,0H5", "symbolSize": 441, "symbolStrokeWidth": 1.5,
      "labelFontSize": 23, "labelFont": "Liberation Sans", "labelColor": "black", "labelOffset": 49,
      "columnPadding": 31, "rowPadding": 8, "padding": 12, "strokeColor": "#444444"
    }
  }
}
}
